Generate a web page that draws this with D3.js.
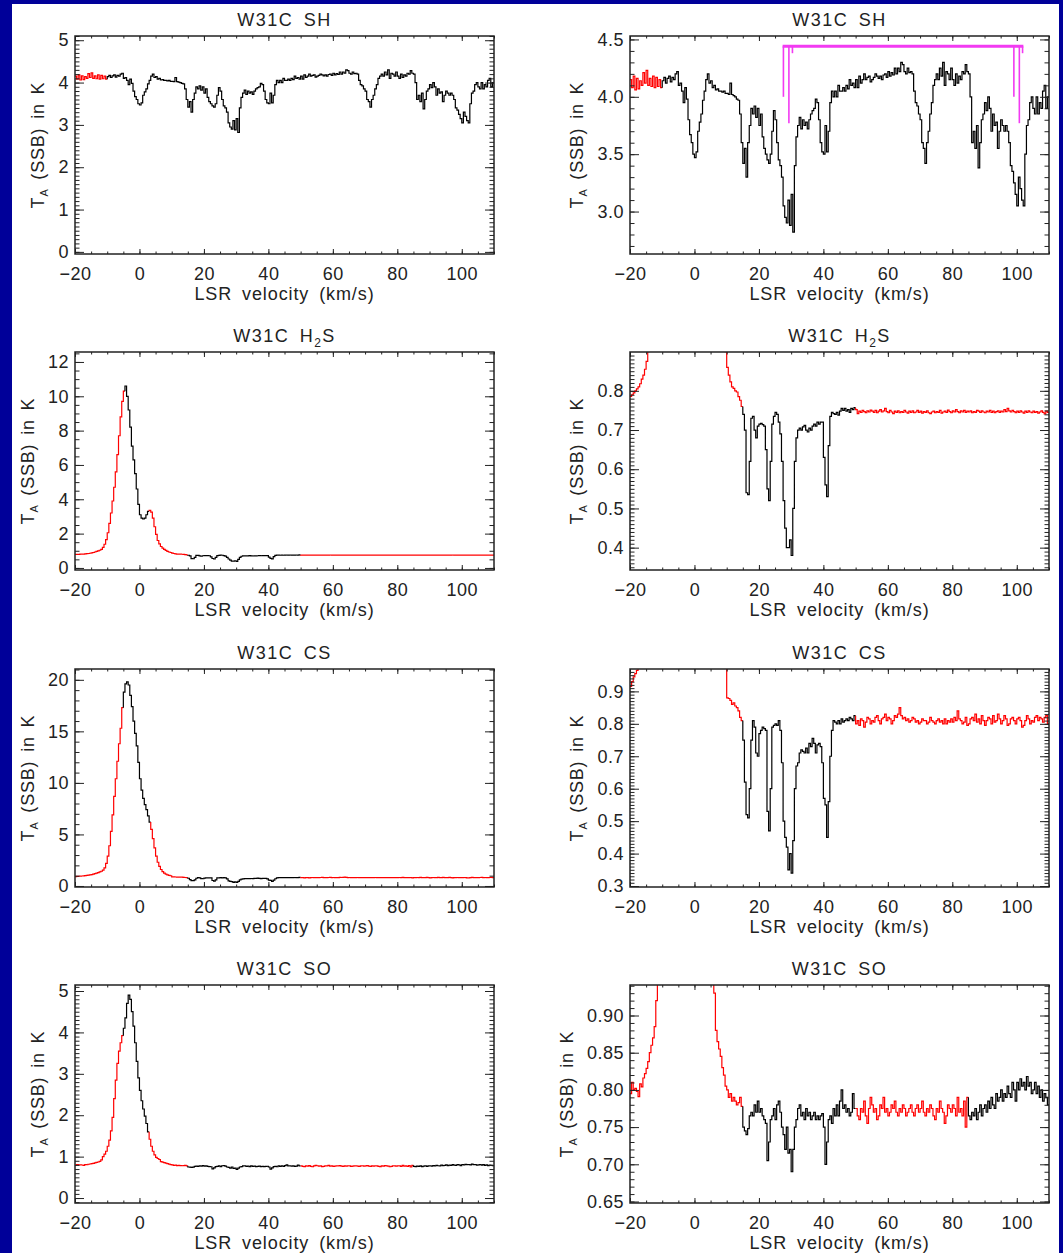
<!DOCTYPE html>
<html>
<head>
<meta charset="utf-8">
<title>W31C spectra</title>
<script src="https://cdn.jsdelivr.net/npm/d3@7/dist/d3.min.js"></script>
<style>
  body { margin: 0; background: #000099; }
  svg { display: block; }
  text { font-family: "Liberation Sans", Arial, sans-serif; fill: #222; }
</style>
</head>
<body>
<svg id="fig" width="1063" height="1253"></svg>
<script>
// spectra sampled every 0.5 km/s, first channel at -20 km/s
var velStart = -20;
var chanWidth = 0.5;

var shTemp = [
  4.15, 4.08, 4.18, 4.06, 4.16, 4.07, 4.14, 4.10, 4.21, 4.12,
  4.23, 4.10, 4.16, 4.09, 4.18, 4.08, 4.17, 4.09, 4.15, 4.08,
  4.14, 4.17, 4.12, 4.16, 4.18, 4.13, 4.17, 4.15, 4.20, 4.22,
  4.10, 4.12, 4.05, 3.95, 4.08, 3.98, 3.80, 3.67, 3.60, 3.50,
  3.47, 3.52, 3.70, 3.78, 3.85, 3.97, 4.05, 4.15, 4.20, 4.12,
  4.14, 4.08, 4.10, 4.06, 4.07, 4.05, 4.05, 4.04, 4.05, 4.03,
  4.03, 4.02, 4.12, 4.02, 4.01, 4.00, 3.98, 3.97, 3.85, 3.60,
  3.42, 3.55, 3.30, 3.60, 3.75, 3.90, 3.85, 3.92, 3.82, 3.90,
  3.75, 3.85, 3.65, 3.55, 3.50, 3.45, 3.42, 3.50, 3.70, 3.88,
  3.80, 3.60, 3.45, 3.40, 3.30, 3.05, 2.95, 2.90, 3.10, 2.88,
  3.15, 2.82, 3.40, 3.65, 3.75, 3.82, 3.72, 3.80, 3.75, 3.78,
  3.72, 3.80, 3.85, 3.88, 3.90, 3.98, 3.95, 3.80, 3.60, 3.52,
  3.50, 3.75, 3.52, 3.70, 3.95, 4.05, 4.00, 4.05, 4.00, 4.10,
  4.05, 4.05, 4.08, 4.05, 4.10, 4.07, 4.15, 4.10, 4.12, 4.08,
  4.15, 4.08, 4.18, 4.12, 4.15, 4.20, 4.15, 4.17, 4.18, 4.13,
  4.15, 4.17, 4.20, 4.18, 4.16, 4.18, 4.15, 4.19, 4.20, 4.17,
  4.22, 4.18, 4.21, 4.19, 4.25, 4.20, 4.25, 4.22, 4.30, 4.28,
  4.22, 4.20, 4.25, 4.21, 4.22, 4.20, 4.05, 3.95, 3.92, 3.85,
  3.80, 3.60, 3.55, 3.42, 3.60, 3.70, 3.85, 3.95, 4.10, 4.15,
  4.20, 4.15, 4.25, 4.18, 4.30, 4.10, 4.22, 4.20, 4.15, 4.25,
  4.15, 4.10, 4.20, 4.12, 4.18, 4.15, 4.22, 4.20, 4.28, 4.22,
  4.20, 4.00, 3.60, 3.70, 3.55, 3.75, 3.38, 3.60, 3.80, 3.85,
  3.95, 3.88, 4.00, 3.90, 3.70, 3.85, 3.75, 3.78, 3.55, 3.70,
  3.80, 3.75, 3.70, 3.75, 3.70, 3.60, 3.40, 3.35, 3.25, 3.15,
  3.05, 3.30, 3.20, 3.10, 3.05, 3.50, 3.75, 3.80, 3.95, 4.00,
  3.90, 3.85, 4.00, 3.85, 3.95, 3.90, 4.05, 4.10, 3.90, 4.00
];

var h2sTemp = [
  0.786, 0.79, 0.795, 0.80, 0.805, 0.81, 0.818, 0.83, 0.84, 0.855,
  0.875, 0.90, 0.93, 0.96, 0.99, 1.03, 1.08, 1.20, 1.38, 1.65,
  2.05, 2.60, 3.20, 3.90, 4.70, 5.60, 6.60, 7.70, 8.80, 9.70,
  10.30, 10.60, 10.00, 9.20, 8.20, 7.10, 6.30, 5.50, 4.60, 3.70,
  3.10, 2.90, 2.85, 2.90, 3.10, 3.30, 3.35, 3.25, 2.90, 2.40,
  1.95, 1.60, 1.40, 1.25, 1.15, 1.08, 1.02, 0.97, 0.93, 0.90,
  0.86, 0.84, 0.823, 0.81, 0.806, 0.80, 0.797, 0.785, 0.776, 0.76,
  0.74, 0.70, 0.54, 0.535, 0.62, 0.73, 0.735, 0.70, 0.68, 0.71,
  0.715, 0.717, 0.714, 0.71, 0.65, 0.55, 0.52, 0.62, 0.715, 0.735,
  0.745, 0.74, 0.72, 0.69, 0.62, 0.52, 0.45, 0.40, 0.40, 0.42,
  0.38, 0.50, 0.62, 0.68, 0.70, 0.705, 0.70, 0.708, 0.712, 0.70,
  0.695, 0.705, 0.70, 0.71, 0.715, 0.71, 0.72, 0.715, 0.72, 0.72,
  0.63, 0.56, 0.53, 0.66, 0.735, 0.745, 0.742, 0.74, 0.745, 0.738,
  0.748, 0.755, 0.75, 0.755, 0.748, 0.752, 0.745, 0.755, 0.752, 0.757,
  0.752, 0.742, 0.748, 0.745, 0.75, 0.747, 0.744, 0.749, 0.746, 0.751,
  0.748, 0.745, 0.75, 0.744, 0.748, 0.752, 0.746, 0.749, 0.755, 0.747,
  0.744, 0.75, 0.746, 0.742, 0.748, 0.745, 0.749, 0.744, 0.747, 0.745,
  0.75, 0.746, 0.743, 0.748, 0.745, 0.749, 0.744, 0.746, 0.75, 0.745,
  0.748, 0.743, 0.747, 0.745, 0.749, 0.744, 0.742, 0.746, 0.748, 0.744,
  0.747, 0.745, 0.75, 0.743, 0.746, 0.748, 0.745, 0.751, 0.747, 0.744,
  0.749, 0.746, 0.752, 0.747, 0.744, 0.749, 0.746, 0.75, 0.745, 0.748,
  0.746, 0.749, 0.744, 0.747, 0.745, 0.75, 0.748, 0.745, 0.749, 0.746,
  0.744, 0.748, 0.746, 0.75, 0.745, 0.748, 0.744, 0.747, 0.749, 0.745,
  0.748, 0.746, 0.752, 0.747, 0.755, 0.749, 0.746, 0.75, 0.747, 0.744,
  0.748, 0.745, 0.749, 0.746, 0.743, 0.748, 0.745, 0.749, 0.746, 0.744,
  0.748, 0.745, 0.747, 0.743, 0.746, 0.749, 0.745, 0.741, 0.748, 0.745
];

var csTemp = [
  0.915, 0.93, 0.945, 0.955, 0.965, 0.98, 1.00, 1.02, 1.05, 1.08,
  1.10, 1.15, 1.20, 1.25, 1.30, 1.36, 1.43, 1.53, 1.75, 2.20,
  2.90, 3.90, 5.30, 6.90, 8.70, 10.40, 12.10, 13.80, 15.30, 17.30,
  18.80, 19.60, 19.80, 19.50, 18.50, 17.40, 16.00, 14.80, 13.60, 12.00,
  10.40, 9.30, 8.50, 7.90, 7.40, 6.80, 6.20, 5.50, 4.60, 3.70,
  2.90, 2.30, 1.90, 1.60, 1.40, 1.25, 1.15, 1.08, 1.03, 0.99,
  0.88, 0.878, 0.872, 0.86, 0.865, 0.855, 0.85, 0.84, 0.82, 0.81,
  0.75, 0.62, 0.52, 0.51, 0.60, 0.75, 0.81, 0.79, 0.71, 0.70,
  0.77, 0.78, 0.79, 0.785, 0.78, 0.53, 0.47, 0.60, 0.79, 0.795,
  0.80, 0.795, 0.81, 0.78, 0.68, 0.50, 0.45, 0.42, 0.35, 0.40,
  0.34, 0.44, 0.60, 0.67, 0.68, 0.71, 0.72, 0.715, 0.71, 0.725,
  0.71, 0.74, 0.73, 0.755, 0.74, 0.71, 0.735, 0.74, 0.73, 0.68,
  0.57, 0.55, 0.45, 0.56, 0.70, 0.78, 0.81, 0.805, 0.80, 0.81,
  0.80, 0.815, 0.805, 0.81, 0.815, 0.81, 0.82, 0.815, 0.81, 0.825,
  0.80, 0.81, 0.795, 0.815, 0.81, 0.79, 0.805, 0.82, 0.815, 0.80,
  0.81, 0.805, 0.82, 0.825, 0.81, 0.80, 0.815, 0.82, 0.83, 0.81,
  0.82, 0.815, 0.80, 0.81, 0.825, 0.82, 0.83, 0.85, 0.825, 0.815,
  0.82, 0.81, 0.815, 0.805, 0.81, 0.82, 0.815, 0.805, 0.81, 0.80,
  0.805, 0.815, 0.81, 0.81, 0.80, 0.805, 0.82, 0.81, 0.805, 0.80,
  0.81, 0.815, 0.805, 0.81, 0.80, 0.815, 0.80, 0.81, 0.805, 0.815,
  0.805, 0.82, 0.81, 0.84, 0.815, 0.81, 0.80, 0.805, 0.82, 0.795,
  0.80, 0.815, 0.82, 0.81, 0.83, 0.805, 0.815, 0.80, 0.825, 0.81,
  0.795, 0.81, 0.82, 0.815, 0.80, 0.825, 0.805, 0.81, 0.83, 0.815,
  0.80, 0.81, 0.825, 0.815, 0.795, 0.80, 0.815, 0.82, 0.81, 0.80,
  0.815, 0.82, 0.81, 0.79, 0.795, 0.81, 0.825, 0.815, 0.80, 0.81,
  0.805, 0.82, 0.825, 0.81, 0.82, 0.815, 0.805, 0.82, 0.825, 0.80
];

var soTemp = [
  0.795, 0.81, 0.80, 0.802, 0.798, 0.791, 0.808, 0.804, 0.816, 0.822,
  0.829, 0.838, 0.85, 0.86, 0.87, 0.885, 0.92, 1.00, 1.06, 1.13,
  1.25, 1.40, 1.62, 1.95, 2.40, 2.85, 3.25, 3.55, 3.75, 3.92,
  4.10, 4.35, 4.70, 4.90, 4.80, 4.50, 4.15, 3.75, 3.30, 2.90,
  2.60, 2.35, 2.15, 1.98, 1.80, 1.60, 1.42, 1.25, 1.13, 1.04,
  0.98, 0.955, 0.93, 0.88, 0.865, 0.855, 0.845, 0.83, 0.82, 0.805,
  0.80, 0.79, 0.795, 0.785, 0.79, 0.785, 0.78, 0.783, 0.79, 0.778,
  0.75, 0.745, 0.74, 0.748, 0.765, 0.77, 0.765, 0.78, 0.77, 0.785,
  0.77, 0.775, 0.765, 0.76, 0.755, 0.705, 0.73, 0.76, 0.765, 0.775,
  0.76, 0.78, 0.785, 0.77, 0.75, 0.74, 0.72, 0.75, 0.715, 0.72,
  0.69, 0.72, 0.75, 0.76, 0.775, 0.78, 0.765, 0.77, 0.76, 0.775,
  0.765, 0.77, 0.76, 0.765, 0.77, 0.76, 0.765, 0.76, 0.765, 0.768,
  0.75, 0.70, 0.73, 0.76, 0.765, 0.755, 0.775, 0.765, 0.78, 0.765,
  0.785, 0.80, 0.775, 0.78, 0.77, 0.775, 0.765, 0.77, 0.795, 0.775,
  0.775, 0.765, 0.76, 0.775, 0.77, 0.785, 0.765, 0.755, 0.775, 0.79,
  0.78, 0.77, 0.775, 0.76, 0.765, 0.78, 0.775, 0.79, 0.77, 0.775,
  0.765, 0.77, 0.78, 0.775, 0.785, 0.77, 0.765, 0.775, 0.77, 0.78,
  0.775, 0.765, 0.77, 0.775, 0.78, 0.77, 0.765, 0.775, 0.78, 0.77,
  0.775, 0.785, 0.77, 0.765, 0.775, 0.77, 0.78, 0.775, 0.765, 0.76,
  0.775, 0.77, 0.785, 0.775, 0.77, 0.755, 0.765, 0.78, 0.775, 0.77,
  0.78, 0.775, 0.765, 0.79, 0.77, 0.775, 0.765, 0.785, 0.75, 0.79,
  0.765, 0.76, 0.77, 0.765, 0.775, 0.76, 0.77, 0.78, 0.765, 0.775,
  0.78, 0.77, 0.785, 0.775, 0.79, 0.78, 0.775, 0.795, 0.785, 0.79,
  0.80, 0.785, 0.795, 0.79, 0.805, 0.795, 0.79, 0.81, 0.80, 0.785,
  0.81, 0.80, 0.815, 0.805, 0.81, 0.80, 0.818, 0.805, 0.81, 0.795,
  0.80, 0.81, 0.795, 0.805, 0.79, 0.80, 0.785, 0.795, 0.79, 0.78
];

// velocity windows drawn in red (baseline / emission parts)
var shRed = [[-20, -10]];
var h2sRed = [[-20, -4.5], [3, 15], [50, 110]];
var csRed = [[-20, -5], [3.5, 15], [50, 110]];
var soRed = [[-20, -5], [3, 15], [50, 85]];

// SH hyperfine comb (velocities, lower ends, bar level)
var combVel = [27.6, 29.3, 30.4, 99.1, 100.8, 101.8];
var combEnd = [4.0, 3.77, 4.38, 4.0, 3.77, 4.38];
var combLevel = 4.44;

var molecules = ['SH', 'H2S', 'CS', 'SO'];
var spectra = [shTemp, h2sTemp, csTemp, soTemp];
var redWindows = [shRed, h2sRed, csRed, soRed];

var velDomain = [-20, 110];
var velTicks = [-20, 0, 20, 40, 60, 80, 100];
var velMinorStep = 5;

// left column: whole line, right column: zoom on the absorption
var yRangeFull = [[-0.05, 5.1], [-0.12, 12.58], [-0.1, 21.05], [-0.12, 5.145]];
var yRangeZoom = [[2.63, 4.53], [0.343, 0.899], [0.297, 0.969], [0.648, 0.941]];
var yTicksFull = [[0, 1, 2, 3, 4, 5], [0, 2, 4, 6, 8, 10, 12], [0, 5, 10, 15, 20], [0, 1, 2, 3, 4, 5]];
var yTicksZoom = [[3.0, 3.5, 4.0, 4.5], [0.4, 0.5, 0.6, 0.7, 0.8], [0.3, 0.4, 0.5, 0.6, 0.7, 0.8, 0.9], [0.65, 0.70, 0.75, 0.80, 0.85, 0.90]];
var yMinorFull = [0.1, 0.5, 1, 0.1];
var yMinorZoom = [0.1, 0.01, 0.01, 0.01];
var yFmtFull = ['d', 'd', 'd', 'd'];
var yFmtZoom = ['.1f', '.1f', '.1f', '.2f'];

// layout
var boxW = 419, boxH = 218;
var colLeft = [75, 630];
var rowTop = [36, 352, 669, 985];
var xMajLen = 5, xMinLen = 2.5, yMajLen = 9, yMinLen = 4.5;

var svg = d3.select('#fig');
svg.append('rect')
  .attr('x', 12).attr('y', 4)
  .attr('width', 1047).attr('height', 1249)
  .attr('fill', '#fff');
var defs = svg.append('defs');

var x = d3.scaleLinear().domain(velDomain).range([0, boxW]);

function minorTicks(domain, step) {
  var a = Math.ceil(domain[0] / step - 1e-6), b = Math.floor(domain[1] / step + 1e-6);
  return d3.range(a, b + 1).map(function (k) { return +(k * step).toFixed(4); });
}

function cleanAxis(sel) {
  sel.attr('font-family', null).attr('font-size', null).attr('fill', null).attr('color', '#222');
  sel.select('.domain').remove();
  sel.selectAll('.tick line').attr('stroke-width', 1);
  sel.selectAll('.tick text').attr('font-size', 18).attr('letter-spacing', 0.5);
}

// chemical formula with subscript digits
function writeFormula(t, name) {
  var low = false;
  name.match(/[A-Za-z]+|\d+/g).forEach(function (s) {
    var ts = t.append('tspan').text(s);
    if (/\d/.test(s)) { ts.attr('font-size', 12).attr('dy', 5); low = true; }
    else if (low) { ts.attr('dy', -5); low = false; }
  });
}

// split a spectrum in black / red step pieces
function pieces(temp, wins) {
  var segs = [], cur = null;
  temp.forEach(function (t, i) {
    var v = velStart + i * chanWidth;
    var red = wins.some(function (w) { return v >= w[0] - 1e-9 && v < w[1] - 1e-9; });
    if (!cur || cur.red !== red) {
      var start = [];
      if (cur) {
        var lastT = cur.pts[cur.pts.length - 1].t;
        cur.pts.push({ v: v, t: lastT });
        start.push({ v: v, t: lastT });
      }
      cur = { red: red, pts: start };
      segs.push(cur);
    }
    cur.pts.push({ v: v, t: t });
  });
  var last = cur.pts[cur.pts.length - 1];
  cur.pts.push({ v: last.v + chanWidth, t: last.t });
  return segs;
}

molecules.forEach(function (mol, m) {
  [0, 1].forEach(function (col) {
    var yDom = col === 0 ? yRangeFull[m] : yRangeZoom[m];
    var yTk = col === 0 ? yTicksFull[m] : yTicksZoom[m];
    var yMinor = col === 0 ? yMinorFull[m] : yMinorZoom[m];
    var fmt = d3.format(col === 0 ? yFmtFull[m] : yFmtZoom[m]);
    var y = d3.scaleLinear().domain(yDom).range([boxH, 0]);
    var clipId = 'clip' + m + col;

    defs.append('clipPath').attr('id', clipId)
      .append('rect').attr('width', boxW).attr('height', boxH);

    var g = svg.append('g')
      .attr('transform', 'translate(' + colLeft[col] + ',' + rowTop[m] + ')');

    // spectrum
    var line = d3.line()
      .x(function (d) { return x(d.v); })
      .y(function (d) { return y(d.t); })
      .curve(d3.curveStepAfter);
    var plot = g.append('g').attr('clip-path', 'url(#' + clipId + ')');
    plot.selectAll('path.spec')
      .data(pieces(spectra[m], redWindows[m]))
      .enter().append('path')
      .attr('class', 'spec')
      .attr('d', function (d) { return line(d.pts); })
      .attr('fill', 'none')
      .attr('stroke', function (d) { return d.red ? '#ff0000' : '#000'; })
      .attr('stroke-width', 1.2);

    // hyperfine comb on the zoomed SH panel
    if (m === 0 && col === 1) {
      var comb = plot.append('g').attr('stroke', '#f23af2').attr('fill', 'none');
      comb.append('line')
        .attr('x1', x(combVel[0]) - 0.8).attr('x2', x(combVel[combVel.length - 1]) + 0.8)
        .attr('y1', y(combLevel)).attr('y2', y(combLevel))
        .attr('stroke-width', 3);
      comb.selectAll('line.tooth').data(combVel).enter().append('line')
        .attr('class', 'tooth')
        .attr('x1', function (d) { return x(d); }).attr('x2', function (d) { return x(d); })
        .attr('y1', y(combLevel)).attr('y2', function (d, i) { return y(combEnd[i]); })
        .attr('stroke-width', 1.6);
    }

    // axes (ticks inside, on all four sides)
    var xMinor = minorTicks(velDomain, velMinorStep);
    var yMinorVals = minorTicks(yDom, yMinor);
    var none = function () { return ''; };

    g.append('g').attr('transform', 'translate(0,' + boxH + ')')
      .call(d3.axisBottom(x).tickValues(xMinor).tickSize(-xMinLen).tickFormat(none)).call(cleanAxis);
    g.append('g').attr('transform', 'translate(0,' + boxH + ')')
      .call(d3.axisBottom(x).tickValues(velTicks).tickSize(-xMajLen).tickPadding(13).tickFormat(d3.format('d')))
      .call(cleanAxis);
    g.append('g')
      .call(d3.axisTop(x).tickValues(xMinor).tickSize(-xMinLen).tickFormat(none)).call(cleanAxis);
    g.append('g')
      .call(d3.axisTop(x).tickValues(velTicks).tickSize(-xMajLen).tickFormat(none)).call(cleanAxis);

    g.append('g')
      .call(d3.axisLeft(y).tickValues(yMinorVals).tickSize(-yMinLen).tickFormat(none)).call(cleanAxis);
    var left = g.append('g')
      .call(d3.axisLeft(y).tickValues(yTk).tickSize(-yMajLen).tickPadding(6).tickFormat(fmt))
      .call(cleanAxis);
    g.append('g').attr('transform', 'translate(' + boxW + ',0)')
      .call(d3.axisRight(y).tickValues(yMinorVals).tickSize(-yMinLen).tickFormat(none)).call(cleanAxis);
    g.append('g').attr('transform', 'translate(' + boxW + ',0)')
      .call(d3.axisRight(y).tickValues(yTk).tickSize(-yMajLen).tickFormat(none)).call(cleanAxis);

    g.append('rect')
      .attr('width', boxW).attr('height', boxH)
      .attr('fill', 'none').attr('stroke', '#222').attr('stroke-width', 1.5);

    // title
    var title = g.append('text')
      .attr('x', boxW / 2).attr('y', -10)
      .attr('text-anchor', 'middle')
      .attr('font-size', 18).attr('letter-spacing', 1.5).attr('word-spacing', 4);
    title.append('tspan').text('W31C ');
    writeFormula(title, mol);

    // x label
    g.append('text')
      .attr('x', boxW / 2).attr('y', boxH + 46)
      .attr('text-anchor', 'middle')
      .attr('font-size', 18).attr('letter-spacing', 0.9).attr('word-spacing', 4)
      .text('LSR velocity (km/s)');

    // y label, placed just outside the widest tick label
    var maxW = d3.max(left.selectAll('.tick text').nodes(), function (n) { return n.getComputedTextLength(); });
    var yl = g.append('text')
      .attr('transform', 'translate(' + (-(maxW + 20)) + ',' + (boxH / 2) + ') rotate(-90)')
      .attr('text-anchor', 'middle')
      .attr('font-size', 18).attr('letter-spacing', 0.8).attr('word-spacing', 3);
    yl.append('tspan').text('T');
    yl.append('tspan').attr('font-size', 11).attr('dy', 4).text('A');
    yl.append('tspan').attr('dy', -4).text(' (SSB) in K');
  });
});
</script>
</body>
</html>
